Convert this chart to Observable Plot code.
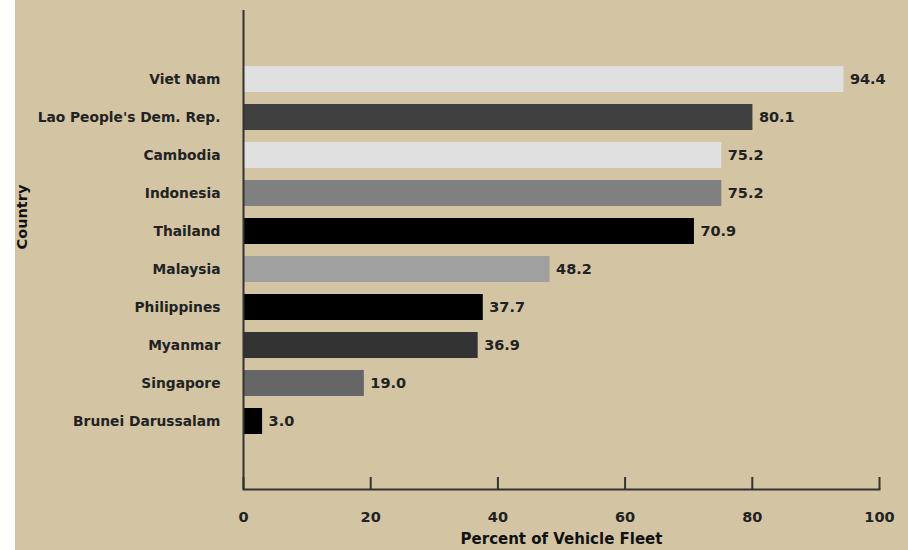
<!DOCTYPE html>
<html>
<head>
<meta charset="utf-8">
<script src="https://cdn.jsdelivr.net/npm/d3@7"></script>
<script src="https://cdn.jsdelivr.net/npm/@observablehq/plot@0.6"></script>
<style>
  html, body { margin: 0; padding: 0; background: #ffffff; }
  #wrap { padding-left: 15px; width: 893px; height: 550px; }
  svg { display: block; }
</style>
</head>
<body>
<div id="wrap"></div>
<script>
const countries = ["Viet Nam", "Lao People's Dem. Rep.", "Cambodia", "Indonesia", "Thailand",
  "Malaysia", "Philippines", "Myanmar", "Singapore", "Brunei Darussalam"];
const values = [94.4, 80.1, 75.2, 75.2, 70.9, 48.2, 37.7, 36.9, 19.0, 3.0];
const barColors = ["#e0e0e0", "#404040", "#e0e0e0", "#808080", "#000000",
  "#a0a0a0", "#000000", "#333333", "#666666", "#000000"];
const xTicks = [0, 20, 40, 60, 80, 100];

const data = countries.map((c, i) => ({country: c, value: values[i], color: barColors[i]}));

const font = "'DejaVu Sans', Verdana, sans-serif";

const chart = Plot.plot({
  width: 893,
  height: 550,
  marginLeft: 228,
  marginRight: 29,
  marginTop: 10,
  marginBottom: 61,
  style: {background: "#d3c5a4", fontFamily: font, fontSize: "13.8px", fontWeight: "bold", color: "#222"},
  x: {domain: [0, 100]},
  y: {domain: countries, paddingInner: 0.32, paddingOuter: 1.4},
  marks: [
    Plot.barX(data, {x: "value", y: "country", fill: "color"}),
    Plot.text(data, {x: "value", y: "country", text: d => d.value.toFixed(1), textAnchor: "start", dx: 6, fill: "#222", fontSize: 14.5, fontWeight: "bold"}),
    Plot.axisY({tickSize: 0, tickPadding: 23, label: null, fontSize: 13.8, fontWeight: "bold"}),
    Plot.axisX({ticks: xTicks, tickSize: -12, tickPadding: 34, stroke: "#333", strokeWidth: 2, label: null, fontSize: 14.5, fontWeight: "bold"}),
    Plot.frame({anchor: "bottom", stroke: "#333", strokeWidth: 2}),
    Plot.ruleX([0], {stroke: "#333", strokeWidth: 2}),
    Plot.text(["Percent of Vehicle Fleet"], {frameAnchor: "bottom", textAnchor: "middle", dy: 54, fontSize: 15, fontWeight: "bold", fill: "#111"}),
    Plot.text(["Country"], {frameAnchor: "left", textAnchor: "middle", dx: -221, dy: -33, rotate: -90, fontSize: 14.5, fontWeight: "bold", fill: "#111"})
  ]
});
document.getElementById("wrap").appendChild(chart);
</script>
</body>
</html>
